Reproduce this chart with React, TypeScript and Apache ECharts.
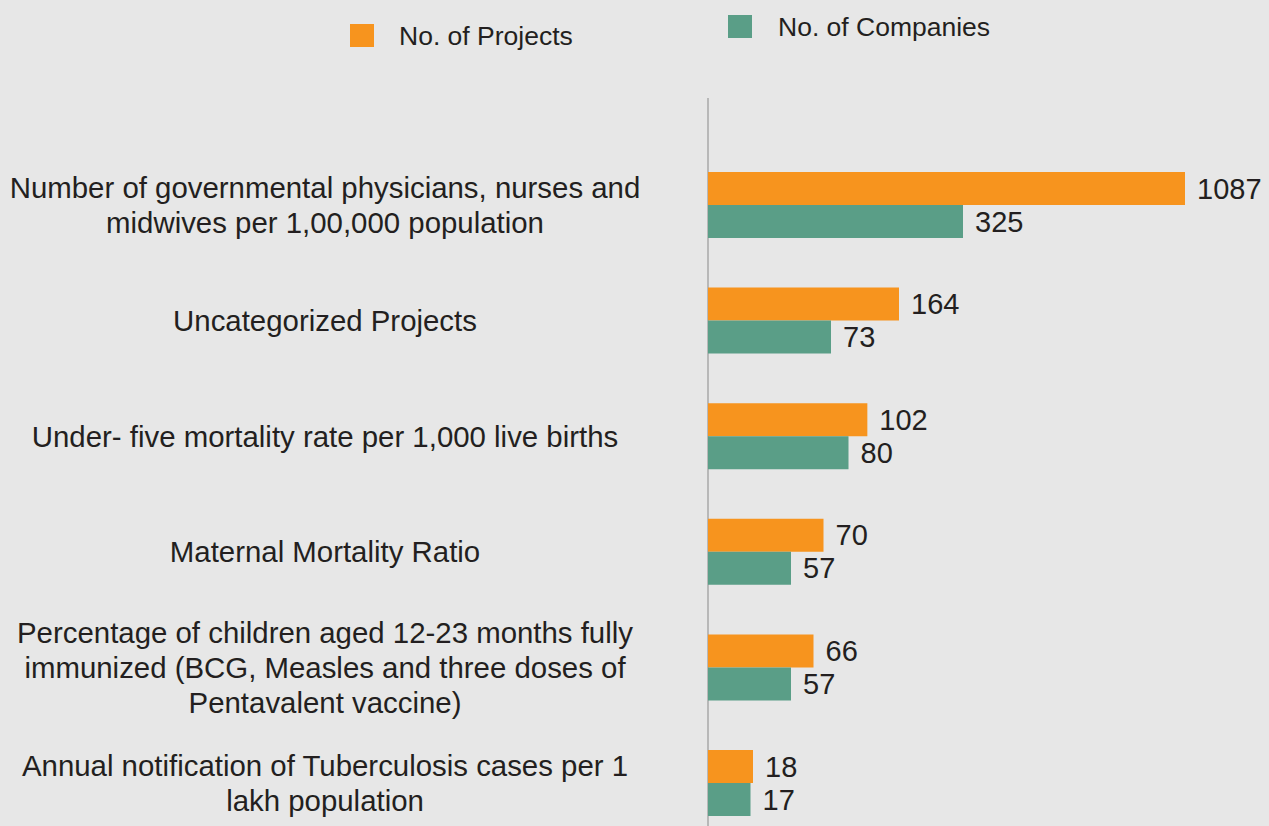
import React, { useEffect, useRef } from "react";
import * as echarts from "echarts";

const categories = [
  "Number of governmental physicians, nurses and\nmidwives per 1,00,000 population",
  "Uncategorized Projects",
  "Under- five mortality rate per 1,000 live births",
  "Maternal Mortality Ratio",
  "Percentage of children aged 12-23 months fully\nimmunized (BCG, Measles and three doses of\nPentavalent vaccine)",
  "Annual notification of Tuberculosis cases per 1\nlakh population",
];
const projects = [1087, 164, 102, 70, 66, 18];
const companies = [325, 73, 80, 57, 57, 17];
const seriesNames = ["No. of Projects", "No. of Companies"];

// The source graphic uses a compressed (non-linear) value scale; approximated with axis breaks.
const axisBreaks = [
  { start: 20, end: 55, gap: 11.2 },
  { start: 85, end: 160, gap: 11.2 },
  { start: 170, end: 320, gap: 14.6 },
  { start: 330, end: 1080, gap: 76.8 },
];

const FONT = "'Liberation Sans', Arial, Helvetica, sans-serif";
const TEXT = "#231F20";

export default function App() {
  const ref = useRef<HTMLDivElement>(null);
  useEffect(() => {
    if (!ref.current) return;
    const chart = echarts.init(ref.current, null, { renderer: "svg" });
    chart.setOption({
      animation: false,
      backgroundColor: "#E7E7E7",
      textStyle: { fontFamily: FONT },
      legend: [
        {
          data: [seriesNames[0]],
          left: 345,
          top: 17,
          icon: "rect",
          itemWidth: 24,
          itemHeight: 23,
          textStyle: { fontSize: 26.5, color: TEXT, fontFamily: FONT, padding: [0, 0, 0, 20] },
          selectedMode: false,
        },
        {
          data: [seriesNames[1]],
          left: 723,
          top: 8,
          icon: "rect",
          itemWidth: 24,
          itemHeight: 23,
          textStyle: { fontSize: 26.5, color: TEXT, fontFamily: FONT, padding: [0, 0, 0, 21] },
          selectedMode: false,
        },
      ],
      grid: {
        left: 708,
        top: 147.2,
        width: 509.5,
        height: 693.6,
        outerBoundsMode: "none",
        containLabel: false,
      },
      xAxis: {
        type: "value",
        min: 0,
        max: 1100,
        breaks: axisBreaks,
        breakArea: {
          show: false,
          expandOnClick: false,
          itemStyle: { opacity: 0, borderWidth: 0 },
        },
        axisLine: { show: false },
        axisTick: { show: false },
        axisLabel: { show: false },
        splitLine: { show: false },
      },
      yAxis: {
        type: "category",
        inverse: true,
        data: categories,
        axisLine: { show: false },
        axisTick: { show: false },
        axisLabel: {
          align: "center",
          margin: 383,
          fontSize: 29.4,
          lineHeight: 35,
          padding: [6, 0, 0, 0],
          color: TEXT,
          fontFamily: FONT,
        },
      },
      graphic: [
        {
          type: "line",
          shape: { x1: 708, y1: 98, x2: 708, y2: 826 },
          style: { stroke: "#A8A8A8", lineWidth: 1.5 },
          z: 0,
        },
      ],
      series: [
        {
          name: seriesNames[0],
          type: "bar",
          data: projects,
          barWidth: 33,
          barGap: "0%",
          itemStyle: { color: "#F7941E" },
          label: {
            show: true,
            position: "right",
            distance: 12,
            fontSize: 29,
            color: TEXT,
            fontFamily: FONT,
          },
        },
        {
          name: seriesNames[1],
          type: "bar",
          data: companies,
          barWidth: 33,
          barGap: "0%",
          itemStyle: { color: "#5A9E87" },
          label: {
            show: true,
            position: "right",
            distance: 12,
            fontSize: 29,
            color: TEXT,
            fontFamily: FONT,
          },
        },
      ],
    });
    return () => chart.dispose();
  }, []);
  return (
    <div
      ref={ref}
      style={{ position: "fixed", left: 0, top: 0, width: 1269, height: 826 }}
    />
  );
}
